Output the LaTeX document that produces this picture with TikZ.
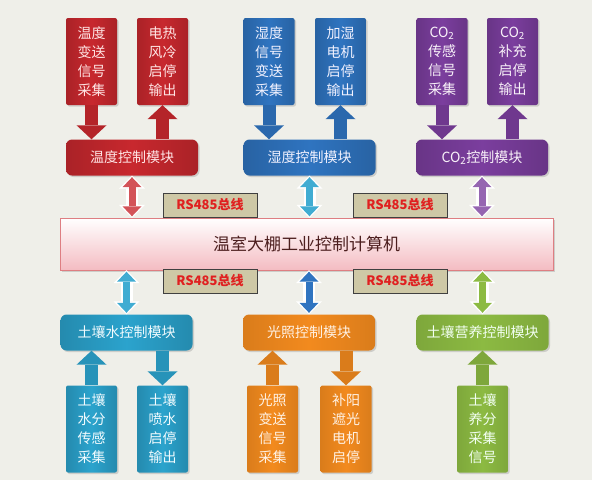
\documentclass[tikz,border=0pt]{standalone}
\usepackage{fontspec}
\setmainfont{Noto Sans CJK SC}
\usetikzlibrary{arrows.meta,shadows}

\definecolor{bgcol}{HTML}{EFEFE9}
\definecolor{tempcol}{HTML}{C8282E}
\definecolor{humcol}{HTML}{2F74C0}
\definecolor{cocol}{HTML}{7B3E9E}
\definecolor{watercol}{HTML}{2BA3CD}
\definecolor{lightcol}{HTML}{F28A1E}
\definecolor{soilcol}{HTML}{8CBA42}
\definecolor{buscol}{HTML}{CEC8A6}
\definecolor{busred}{HTML}{E02020}
\definecolor{pctext}{HTML}{4C1E1E}
\definecolor{pcpink}{HTML}{F4BCC2}

\tikzstyle{sensor} = [
        rectangle,
        rounded corners=2pt,
        minimum width=51pt,
        minimum height=87pt,
        align=center,
        font=\fontsize{14}{19}\selectfont,
        drop shadow={shadow xshift=1.5pt,shadow yshift=-1.5pt,opacity=0.3},
    ]
\tikzstyle{module} = [
        rectangle,
        rounded corners=6pt,
        minimum width=132pt,
        minimum height=36pt,
        font=\fontsize{14}{16}\selectfont,
        drop shadow={shadow xshift=1.5pt,shadow yshift=-1.5pt,opacity=0.3},
    ]
\tikzstyle{busbox} = [
        rectangle,
        fill=buscol,
        draw=black!75,
        minimum width=94pt,
        minimum height=24pt,
        text=busred,
        font=\bfseries\fontsize{13}{15}\selectfont,
        drop shadow={shadow xshift=1pt,shadow yshift=-1pt,opacity=0.3},
    ]
\tikzstyle{pcbox} = [
        rectangle,
        minimum width=493pt,
        minimum height=52pt,
        draw=tempcol!60,
        top color=white,
        bottom color=pcpink,
        text=pctext,
        font=\fontsize{17}{20}\selectfont,
        drop shadow={shadow xshift=1.5pt,shadow yshift=-1.5pt,opacity=0.3},
    ]
\tikzstyle{tempc} = [left color=tempcol!85!black, right color=tempcol!85!black, middle color=tempcol, text=red!10]
\tikzstyle{humc} = [left color=humcol!85!black, right color=humcol!85!black, middle color=humcol, text=blue!5]
\tikzstyle{coc} = [left color=cocol!85!black, right color=cocol!85!black, middle color=cocol, text=violet!5]
\tikzstyle{waterc} = [left color=watercol!85!black, right color=watercol!85!black, middle color=watercol, text=cyan!5]
\tikzstyle{lightc} = [left color=lightcol!90!black, right color=lightcol!90!black, middle color=lightcol, text=orange!10]
\tikzstyle{soilc} = [left color=soilcol!90!black, right color=soilcol!90!black, middle color=soilcol, text=green!5]
\tikzstyle{fat} = [line width=13pt, -{Triangle[width=30pt,length=14pt,line width=0pt]}]
\tikzstyle{linkrim} = [white, line width=12pt, {Triangle[width=26pt,length=13pt,line width=0pt]}-{Triangle[width=26pt,length=13pt,line width=0pt]}]
\tikzstyle{link} = [line width=7pt, shorten >=1.5pt, shorten <=1.5pt, {Triangle[width=19pt,length=10pt,line width=0pt]}-{Triangle[width=19pt,length=10pt,line width=0pt]}]

\begin{document}
\begin{tikzpicture}[x=1pt,y=-1pt]
            \fill [bgcol] (0,0) rectangle (592,480);
            \node [sensor, tempc] (tsig) at (91.5,61.5) {温度\\变送\\信号\\采集};
            \node [sensor, tempc] (tout) at (162.5,61.5) {电热\\风冷\\启停\\输出};
            \node [module, tempc] (tmod) at (132,157.5) {温度控制模块};
            \node [sensor, humc] (hsig) at (269,61.5) {湿度\\信号\\变送\\采集};
            \node [sensor, humc] (hout) at (340.5,61.5) {加湿\\电机\\启停\\输出};
            \node [module, humc] (hmod) at (309.5,157.5) {湿度控制模块};
            \node [sensor, coc] (csig) at (442,61.5) {CO\textsubscript{2}\\传感\\信号\\采集};
            \node [sensor, coc] (cout) at (512.5,61.5) {CO\textsubscript{2}\\补充\\启停\\输出};
            \node [module, coc] (cmod) at (482,157.5) {CO\textsubscript{2}控制模块};
            \node [pcbox] (pc) at (306.5,244) {温室大棚工业控制计算机};
            \node [busbox] (bus1) at (210,205) {RS485总线};
            \node [busbox] (bus2) at (400,205) {RS485总线};
            \node [busbox] (bus3) at (210,281) {RS485总线};
            \node [busbox] (bus4) at (400,281) {RS485总线};
            \node [module, waterc] (wmod) at (126.5,332.5) {土壤水控制模块};
            \node [sensor, waterc] (wsig) at (91.5,429) {土壤\\水分\\传感\\采集};
            \node [sensor, waterc] (wout) at (162.5,429) {土壤\\喷水\\启停\\输出};
            \node [module, lightc] (lmod) at (309,332.5) {光照控制模块};
            \node [sensor, lightc] (lsig) at (272.5,429) {光照\\变送\\信号\\采集};
            \node [sensor, lightc] (lout) at (346,429) {补阳\\遮光\\电机\\启停};
            \node [module, soilc] (smod) at (482.5,332.5) {土壤营养控制模块};
            \node [sensor, soilc] (ssig) at (482.5,429) {土壤\\养分\\采集\\信号};
            \draw [fat, tempcol!90!black] (tsig.south) -- (tsig.south |- tmod.north);
            \draw [fat, tempcol!90!black] (tout.south |- tmod.north) -- (tout.south);
            \draw [fat, humcol!90!black] (hsig.south) -- (hsig.south |- hmod.north);
            \draw [fat, humcol!90!black] (hout.south |- hmod.north) -- (hout.south);
            \draw [fat, cocol!90!black] (csig.south) -- (csig.south |- cmod.north);
            \draw [fat, cocol!90!black] (cout.south |- cmod.north) -- (cout.south);
            \draw [fat, watercol!90!black] (wsig.north) -- (wsig.north |- wmod.south);
            \draw [fat, watercol!90!black] (wout.north |- wmod.south) -- (wout.north);
            \draw [fat, lightcol!90!black] (lsig.north) -- (lsig.north |- lmod.south);
            \draw [fat, lightcol!90!black] (lout.north |- lmod.south) -- (lout.north);
            \draw [fat, soilcol!90!black] (ssig.north) -- (ssig.north |- smod.south);
            \draw [linkrim] (tmod.south) -- (tmod.south |- pc.north);
            \draw [link, tempcol!80] (tmod.south) -- (tmod.south |- pc.north);
            \draw [linkrim] (hmod.south) -- (hmod.south |- pc.north);
            \draw [link, watercol!90] (hmod.south) -- (hmod.south |- pc.north);
            \draw [linkrim] (cmod.south) -- (cmod.south |- pc.north);
            \draw [link, cocol!80] (cmod.south) -- (cmod.south |- pc.north);
            \draw [linkrim] (wmod.north) -- (wmod.north |- pc.south);
            \draw [link, watercol!90] (wmod.north) -- (wmod.north |- pc.south);
            \draw [linkrim] (lmod.north) -- (lmod.north |- pc.south);
            \draw [link, humcol] (lmod.north) -- (lmod.north |- pc.south);
            \draw [linkrim] (smod.north) -- (smod.north |- pc.south);
            \draw [link, soilcol] (smod.north) -- (smod.north |- pc.south);
        \end{tikzpicture}
\end{document}
